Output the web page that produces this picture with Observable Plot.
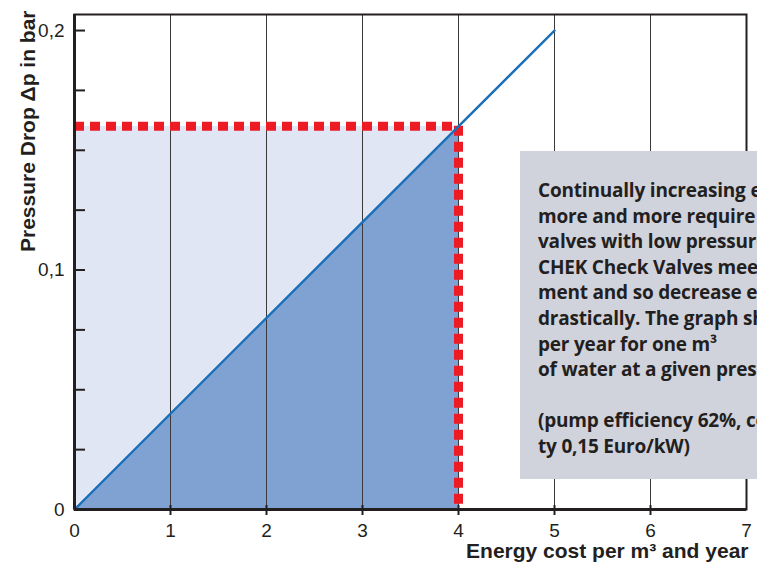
<!DOCTYPE html>
<html><head><meta charset="utf-8">
<script src="https://cdn.jsdelivr.net/npm/d3@7"></script>
<script src="https://cdn.jsdelivr.net/npm/@observablehq/plot@0.6"></script>
<style>
body{margin:0;background:#fff;overflow:hidden;}
#wrap{position:relative;width:757px;height:569px;overflow:hidden;}
#box{position:absolute;left:520px;top:151px;width:380px;height:328px;background:#d1d3dc;box-sizing:border-box;padding:27px 0 0 18px;
 font-family:"Open Sans",sans-serif;font-weight:700;font-size:19px;line-height:25.6px;color:#231f20;white-space:pre;letter-spacing:-0.2px;}
</style></head><body><div id="wrap"></div>
<script>
const xTicks = [0,1,2,3,4,5,6,7];
const gridX = [1,2,3,4,5,6];
const yTicks = [0,0.1,0.2];
const yTickLabels = ["0","0,1","0,2"];
const yMinor = [0,0.025,0.05,0.075,0.1,0.125,0.15,0.175,0.2];
const lineCost = [0,5];
const linePressure = [0,0.2];
const markCost = 4;
const markPressure = 0.16;
const areaCost = [0,4];
const areaPressure = [0,0.16];
const yLabel = "Pressure Drop Δp in bar";
const xLabel = "Energy cost per m³ and year";
const boxLines = [
 "Continually increasing energy costs",
 "more and more require the use of check",
 "valves with low pressure drop.",
 "CHEK Check Valves meet this require-",
 "ment and so decrease energy costs",
 "drastically. The graph shows the costs",
 "per year for one m³",
 "of water at a given pressure drop.",
 "",
 "(pump efficiency 62%, cost of electrici-",
 "ty 0,15 Euro/kW)"
];

const W = 757, H = 569, mL = 74, mR = 11, mT = 14, mB = 60;
const fw = W - mL - mR, fh = H - mT - mB;
const ink = "#231f20";
const linePts = lineCost.map((x,i)=>({x, y: linePressure[i]}));
const areaPts = areaCost.map((x,i)=>({x, y: areaPressure[i]}));

const chart = Plot.plot({
  width: W, height: H,
  marginLeft: mL, marginRight: mR, marginTop: mT, marginBottom: mB,
  x: {domain: [0,7], axis: null},
  y: {domain: [0, 0.2067], axis: null},
  style: {fontFamily: "'Liberation Sans', Arial, sans-serif", color: ink, background: "#fff", overflow: "visible"},
  marks: [
    Plot.rect([{x1:0, x2:markCost, y1:0, y2:markPressure}], {x1:"x1", x2:"x2", y1:"y1", y2:"y2", fill:"#e1e6f4"}),
    Plot.areaY(areaPts, {x:"x", y:"y", fill:"#7fa2d3"}),
    Plot.ruleX(gridX, {x: d=>d, stroke:"#3a3a3a", strokeWidth:1}),
    Plot.ruleY([markPressure], {y: d=>d, x1: 0, x2: markCost, stroke:"#ed1c24", strokeWidth:9, strokeDasharray:"10,6"}),
    Plot.ruleX([markCost], {x: d=>d, y1: markPressure, y2: 0, stroke:"#ed1c24", strokeWidth:9, strokeDasharray:"10,6"}),
    Plot.line(linePts, {x:"x", y:"y", stroke:"#1a6fb8", strokeWidth:2.4}),
    Plot.frame({stroke: ink, strokeWidth: 2}),
    Plot.ruleX([0], {x: d=>d, stroke: ink, strokeWidth: 3}),
    Plot.ruleY([0], {y: d=>d, stroke: ink, strokeWidth: 3}),
    Plot.tickY(yMinor, {y: d=>d, stroke: ink, strokeWidth: 2, insetRight: fw - 11}),
    Plot.tickX(gridX, {x: d=>d, stroke: ink, strokeWidth: 2, insetTop: fh - 4, insetBottom: -6}),
    Plot.text(yTicks, {y: d=>d, text: (d,i)=>yTickLabels[i], frameAnchor: "left", dx: -10, dy: 0, textAnchor: "end", fontSize: 19, fill: ink}),
    Plot.text(xTicks, {x: d=>d, text: d=>String(d), frameAnchor: "bottom", dy: 27, fontSize: 19, fill: ink}),
    Plot.text([yLabel], {text: d=>d, frameAnchor: "top-left", rotate: -90, textAnchor: "end", dx: -54, dy: -4, fontWeight: "bold", fontSize: 21, fill: ink}),
    Plot.text([xLabel], {text: d=>d, frameAnchor: "bottom-right", textAnchor: "end", dx: 2, dy: 48, fontWeight: "bold", fontSize: 21, fill: ink})
  ]
});
const wrap = document.getElementById("wrap");
wrap.appendChild(chart);
const box = d3.select(wrap).append("div").attr("id","box");
box.text(boxLines.join("\n"));
</script></body></html>
